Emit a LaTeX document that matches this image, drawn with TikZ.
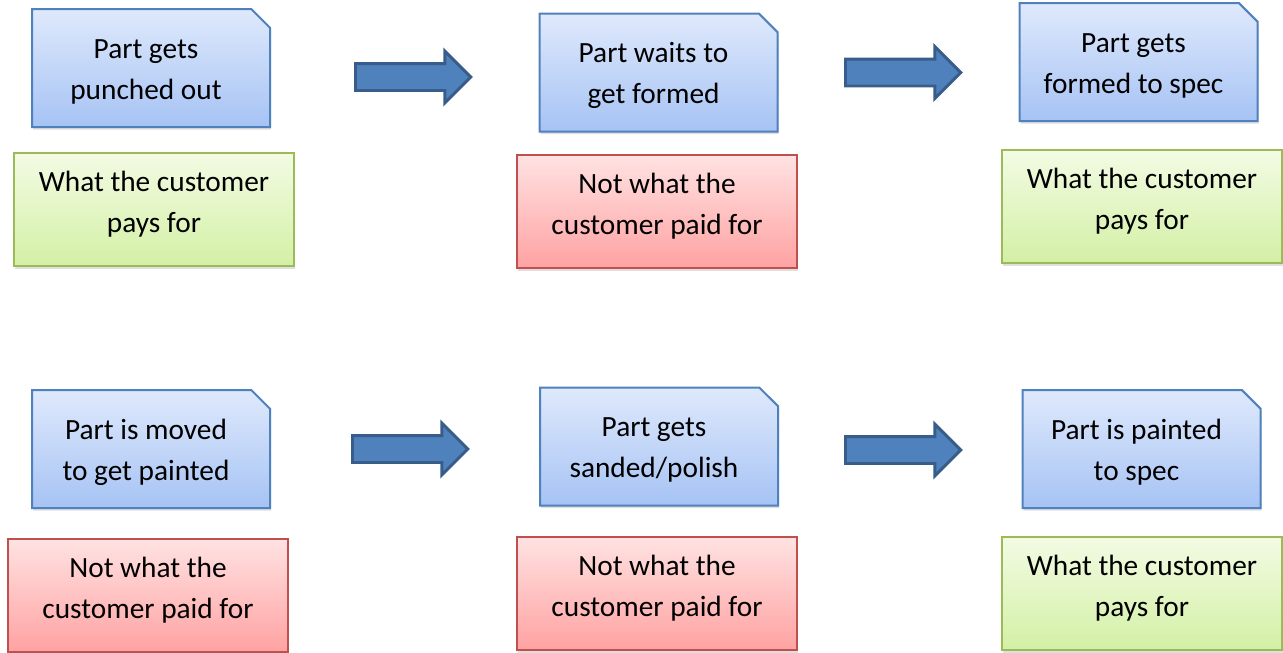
\documentclass[tikz,border=0pt]{standalone}
\usepackage{fontspec}
\setmainfont{Carlito}
\usepackage{xcolor}
\usetikzlibrary{shadows}
\usetikzlibrary{shapes.misc}
\usetikzlibrary{shapes.arrows}

\definecolor{stepTop}{HTML}{DFE9FC}
\definecolor{stepBot}{HTML}{A6C3F4}
\definecolor{stepLine}{HTML}{4F81BD}
\definecolor{payTop}{HTML}{F3FBE4}
\definecolor{payBot}{HTML}{D3F0A5}
\definecolor{payLine}{HTML}{9BBB59}
\definecolor{wasteTop}{HTML}{FFE2E2}
\definecolor{wasteBot}{HTML}{FFA2A2}
\definecolor{wasteLine}{HTML}{C0504D}
\definecolor{arrowFill}{HTML}{4F81BD}
\definecolor{arrowLine}{HTML}{385D8A}

% text sits a little left/low in the snipped boxes, a little high in the plain ones
\newcommand{\stepText}[1]{\raisebox{-7pt}[0pt][0pt]{\begin{tabular}{@{}c@{}}#1\end{tabular}}\hspace*{7.5pt}}
\newcommand{\valueText}[1]{\raisebox{-1pt}[0pt][0pt]{\begin{tabular}{@{}c@{}}#1\end{tabular}}}

\begin{document}
\begin{tikzpicture}
[x=0.75pt, y=-0.75pt,
 textDecorate/.style={align=center, font=\fontsize{22}{31}\selectfont, inner sep=0pt},
 stepDecorate/.style={textDecorate, chamfered rectangle, chamfered rectangle corners=north east,
   chamfered rectangle xsep=14pt, chamfered rectangle ysep=14pt,
   minimum width=178.5pt, minimum height=88.5pt, draw=stepLine, line width=1.5pt,
   top color=stepTop, bottom color=stepBot,
   drop shadow={opacity=0.25, shadow xshift=0.8pt, shadow yshift=-2pt}},
 payDecorate/.style={textDecorate, rectangle, minimum width=210pt, minimum height=84.75pt,
   draw=payLine, line width=1.5pt, top color=payTop, bottom color=payBot,
   drop shadow={opacity=0.25, shadow xshift=0.8pt, shadow yshift=-2pt}},
 wasteDecorate/.style={payDecorate, draw=wasteLine, top color=wasteTop, bottom color=wasteBot},
 arrowDecorate/.style={single arrow, single arrow head extend=9.4pt, inner sep=9pt,
   minimum height=86.5pt, anchor=tail, fill=arrowFill, draw=arrowLine, line width=2.2pt}]

 \useasboundingbox (0,0) rectangle (1283,653);

 % top row
 \node (S1) at (151,68) [stepDecorate] {\stepText{Part gets\\punched out}};
 \node (V1) at (154,209.5) [payDecorate] {\valueText{What the customer\\pays for}};
 \node (S2) at (658.5,72.5) [stepDecorate] {\stepText{Part waits to\\get formed}};
 \node (V2) at (657,211.5) [wasteDecorate] {\valueText{Not what the\\customer paid for}};
 \node (S3) at (1138.5,62) [stepDecorate] {\stepText{Part gets\\formed to spec}};
 \node (V3) at (1142,206.5) [payDecorate] {\valueText{What the customer\\pays for}};

 % bottom row
 \node (S4) at (151,449) [stepDecorate] {\stepText{Part is moved\\to get painted}};
 \node (V4) at (148,595.5) [wasteDecorate] {\valueText{Not what the\\customer paid for}};
 \node (S5) at (659,446.5) [stepDecorate] {\stepText{Part gets\\sanded/polish}};
 \node (V5) at (657,593.5) [wasteDecorate] {\valueText{Not what the\\customer paid for}};
 \node (S6) at (1141.5,449) [stepDecorate] {\stepText{Part is painted\\to spec}};
 \node (V6) at (1142,593.5) [payDecorate] {\valueText{What the customer\\pays for}};

 \foreach \arrowname/\x/\y in {
1/354/77,
2/844/72.5,
3/351/449,
4/844/450
 }
 {
          \node (A\arrowname) at (\x,\y) [arrowDecorate] {};
 }

\end{tikzpicture}
\end{document}
